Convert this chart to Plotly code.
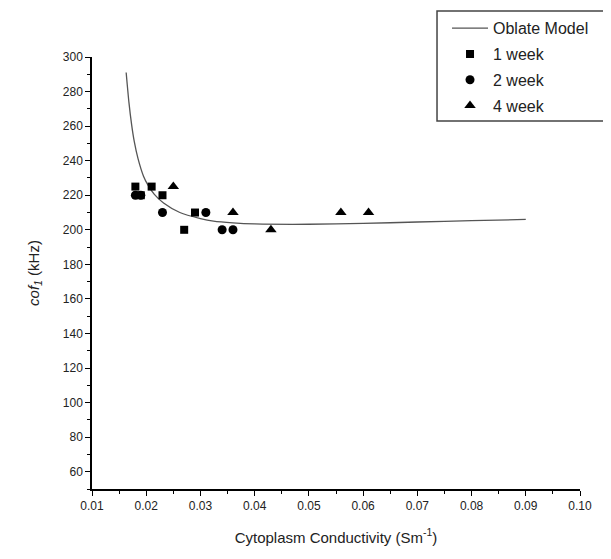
import plotly.graph_objects as go

# Oblate model curve
model_x = [0.0163, 0.0168, 0.0173, 0.0178, 0.0185, 0.0195, 0.0203, 0.0215, 0.0232, 0.0262, 0.030, 0.0324, 0.036, 0.040, 0.050, 0.060, 0.070, 0.080, 0.090]
model_y = [291, 274, 261, 251, 241, 231, 226, 220.5, 215.5, 210, 206.5, 205, 204, 203.4, 203.2, 203.7, 204.5, 205.3, 206]

# 1 week
w1_x = [0.018, 0.019, 0.021, 0.023, 0.029, 0.027]
w1_y = [225, 220, 225, 220, 210, 200]
# 2 week
w2_x = [0.018, 0.019, 0.023, 0.031, 0.034, 0.036]
w2_y = [220, 220, 210, 210, 200, 200]
# 4 week
w4_x = [0.025, 0.036, 0.043, 0.0559, 0.061]
w4_y = [225, 210, 200, 210, 210]

x_ticks = [0.01, 0.02, 0.03, 0.04, 0.05, 0.06, 0.07, 0.08, 0.09, 0.10]
x_ticklabels = ["0.01", "0.02", "0.03", "0.04", "0.05", "0.06", "0.07", "0.08", "0.09", "0.10"]

FONT = "Liberation Sans, Arial, sans-serif"

fig = go.Figure()
fig.add_trace(go.Scatter(x=model_x, y=model_y, mode="lines", name="Oblate Model", legendgroup="a",
                         line=dict(color="#555555", width=1.3, shape="spline", smoothing=0.6)))
fig.add_trace(go.Scatter(x=w1_x, y=w1_y, mode="markers", name="1 week", legendgroup="b",
                         marker=dict(symbol="square", size=8, color="black")))
fig.add_trace(go.Scatter(x=w2_x, y=w2_y, mode="markers", name="2 week", legendgroup="c",
                         marker=dict(symbol="circle", size=9, color="black")))
fig.add_trace(go.Scatter(x=w4_x, y=w4_y, mode="markers", name="4 week", legendgroup="d",
                         marker=dict(symbol="triangle-up", size=10, color="black")))

axis_common = dict(showline=True, linecolor="black", linewidth=1.5, mirror=False,
                   ticks="outside", ticklen=5, tickwidth=1.3, tickcolor="black",
                   showgrid=False, zeroline=False,
                   tickfont=dict(family=FONT, size=12, color="#222222"))

fig.update_xaxes(range=[0.01, 0.10], tickvals=x_ticks, ticktext=x_ticklabels,
                 minor=dict(dtick=0.005, tick0=0.01, ticks="outside", ticklen=3, tickcolor="black", tickwidth=1.2),
                 title=dict(text="Cytoplasm Conductivity (Sm<sup>-1</sup>)",
                            font=dict(family=FONT, size=15, color="#222222"), standoff=20),
                 **axis_common)
fig.update_yaxes(range=[50, 300], dtick=20, tick0=60,
                 minor=dict(dtick=10, tick0=50, ticks="outside", ticklen=3, tickcolor="black", tickwidth=1.2),
                 title=dict(text="<i>cof</i><sub><i>1</i></sub> (kHz)",
                            font=dict(family=FONT, size=15, color="#222222"), standoff=20),
                 **axis_common)

# legend frame, running off the right edge of the figure as in the reference
fig.add_shape(type="rect", xref="paper", yref="paper",
              x0=0.707, x1=1.25, y0=0.852, y1=1.1065,
              line=dict(color="#444444", width=1.5), fillcolor="white", layer="above")

fig.update_layout(
    width=595, height=543,
    margin=dict(l=84, r=23, t=49, b=62, autoexpand=False),
    plot_bgcolor="white", paper_bgcolor="white",
    font=dict(family=FONT, color="#222222"),
    legend=dict(x=0.7275, y=1.106, xanchor="left", yanchor="top",
                bgcolor="rgba(0,0,0,0)", borderwidth=0,
                font=dict(family=FONT, size=16, color="#222222"),
                tracegroupgap=2, itemwidth=36),
    showlegend=True,
)

fig.write_html("out.html")
